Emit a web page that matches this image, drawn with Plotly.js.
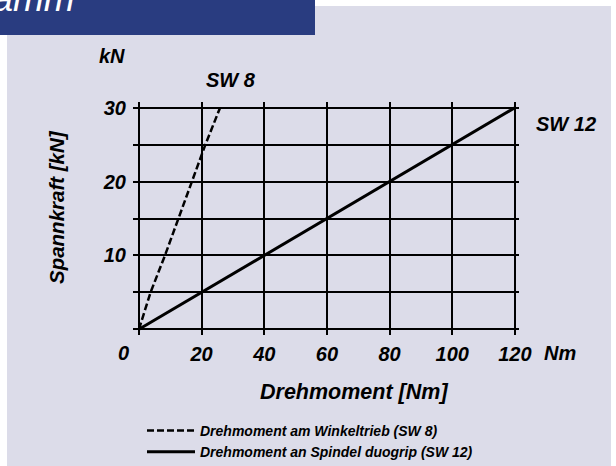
<!DOCTYPE html>
<html>
<head>
<meta charset="utf-8">
<script src="https://cdn.plot.ly/plotly-3.0.1.min.js"></script>
<style>html,body{margin:0;padding:0;background:#fff;}#chart{width:616px;height:466px;}</style>
</head>
<body>
<div id="chart"></div>
<script>
// ---- data ----
const torqueSW12 = [0, 20, 40, 60, 80, 100, 120];      // Nm
const forceSW12  = [0, 5, 10, 15, 20, 25, 30];         // kN
const torqueSW8  = [0, 3.7, 8.3, 12.6, 17.0, 21.2, 25.9]; // Nm
const forceSW8   = [0, 5, 10, 15, 20, 25, 30];         // kN
const nameSW8  = 'Drehmoment am Winkeltrieb (SW 8)';
const nameSW12 = 'Drehmoment an Spindel duogrip (SW 12)';
const xTickVals = [0, 20, 40, 60, 80, 100, 120];
const xTickText = ['', '20', '40', '60', '80', '100', '120'];
const yTickVals = [10, 20, 30];
const yTickText = ['10', '20', '30'];

// ---- layout helpers (pixel -> paper) ----
const W = 616, H = 466;
const L = 133, R = 97, T = 102, B = 131;
const PW = W - L - R, PH = H - T - B;
const px = v => (v - L) / PW;
const py = v => (H - B - v) / PH;

const FAM = 'Liberation Sans, Arial, sans-serif';
const bi = (size) => ({family: FAM, size: size, color: '#000', weight: 'bold', style: 'italic'});

const traces = [
  {x: torqueSW8, y: forceSW8, name: nameSW8, mode: 'lines', type: 'scatter',
   line: {color: '#000', width: 2.5, dash: '7px,3px'}, hoverinfo: 'skip'},
  {x: torqueSW12, y: forceSW12, name: nameSW12, mode: 'lines', type: 'scatter',
   line: {color: '#000', width: 3}, hoverinfo: 'skip'}
];

const ann = (text, x, y, size, extra) => Object.assign({
  text: text, xref: 'paper', yref: 'paper', x: px(x), y: py(y),
  showarrow: false, font: bi(size), xanchor: 'center', yanchor: 'middle'
}, extra || {});

const layout = {
  width: W, height: H, autosize: false,
  margin: {l: L, r: R, t: T, b: B, pad: 0, autoexpand: false},
  paper_bgcolor: '#dcdce9', plot_bgcolor: 'rgba(0,0,0,0)',
  showlegend: true,
  legend: {
    x: px(142), y: py(415), xanchor: 'left', yanchor: 'top',
    bgcolor: 'rgba(0,0,0,0)', font: bi(14), itemwidth: 48,
    traceorder: 'normal'
  },
  xaxis: {
    range: [-1.9, 121.3], tickvals: xTickVals, ticktext: xTickText,
    showgrid: true, gridcolor: '#000', gridwidth: 2, zeroline: false,
    showline: false, ticks: '', ticklabelstandoff: 5, tickangle: 0,
    tickfont: bi(20), fixedrange: true, automargin: false
  },
  yaxis: {
    range: [-0.77, 30.77], tickvals: yTickVals, ticktext: yTickText,
    showgrid: true, gridcolor: '#000', gridwidth: 2, zeroline: false,
    showline: false, ticks: '', ticklabelstandoff: 6,
    minor: {tick0: 0, dtick: 5, showgrid: true, gridcolor: '#000', gridwidth: 2},
    tickfont: bi(20), fixedrange: true, automargin: false
  },
  shapes: [
    {type: 'rect', xref: 'paper', yref: 'paper', x0: px(-5), x1: px(7), y0: py(470), y1: py(-5),
     fillcolor: '#fff', line: {width: 0}, layer: 'below'},
    {type: 'rect', xref: 'paper', yref: 'paper', x0: px(300), x1: px(620), y0: py(6), y1: py(-5),
     fillcolor: '#fff', line: {width: 0}, layer: 'below'},
    {type: 'rect', xref: 'paper', yref: 'paper', x0: px(611), x1: px(620), y0: py(470), y1: py(-5),
     fillcolor: '#fff', line: {width: 0}, layer: 'below'},
    {type: 'rect', xref: 'paper', yref: 'paper', x0: px(-5), x1: px(315), y0: py(35), y1: py(-5),
     fillcolor: '#293c80', line: {width: 0}, layer: 'below'}
  ],
  annotations: [
    {text: 'Diagramm', xref: 'paper', yref: 'paper', x: px(76), y: py(20),
     xanchor: 'right', yanchor: 'bottom', showarrow: false, borderpad: 0,
     font: {family: FAM, size: 37, color: '#fff', style: 'italic'}},
    ann('kN', 112, 56, 20),
    ann('SW 8', 231, 80, 20),
    ann('SW 12', 566, 124, 20),
    ann('0', 123, 353, 20),
    ann('Nm', 560, 353, 20),
    ann('Drehmoment [Nm]', 354, 392, 21.5),
    ann('Spannkraft [kN]', 56, 207, 20.5, {textangle: -90})
  ]
};

Plotly.newPlot('chart', traces, layout, {staticPlot: true, displayModeBar: false});
</script>
</body>
</html>
